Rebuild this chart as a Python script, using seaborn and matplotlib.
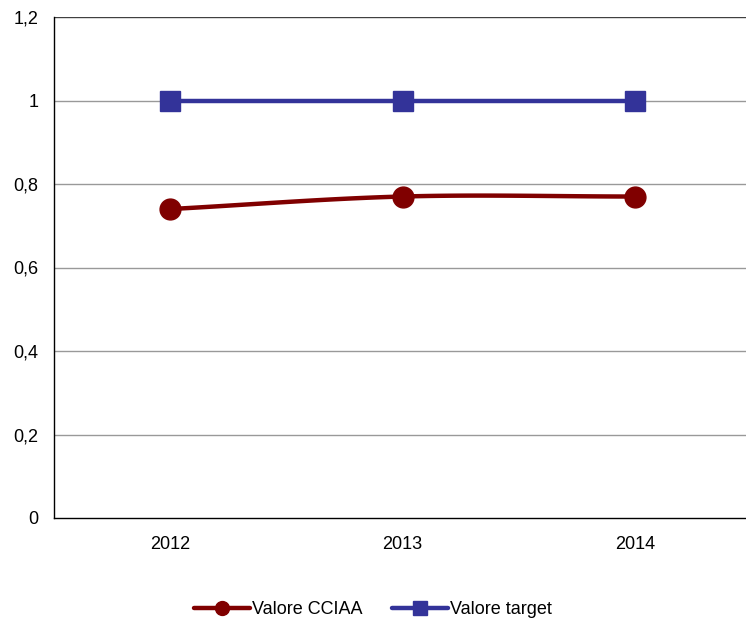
import numpy as np
import pandas as pd
import seaborn as sns
import matplotlib.pyplot as plt
from matplotlib.lines import Line2D

# dati
anni = ['2012', '2013', '2014']
valore_cciaa = [0.74, 0.77, 0.77]
valore_target = [1.0, 1.0, 1.0]
yticks = [0, 0.2, 0.4, 0.6, 0.8, 1.0, 1.2]
ytick_labels = ['0', '0,2', '0,4', '0,6', '0,8', '1', '1,2']

ROSSO = '#800000'
BLU = '#333399'


def smooth(y, n=40):
    # spline Catmull-Rom come le linee smussate di Excel
    y = np.asarray(y, dtype=float)
    p = np.concatenate([[2 * y[0] - y[1]], y, [2 * y[-1] - y[-2]]])
    xs, ys = [], []
    for i in range(len(y) - 1):
        p0, p1, p2, p3 = p[i], p[i + 1], p[i + 2], p[i + 3]
        t = np.linspace(0, 1, n)
        seg = 0.5 * ((2 * p1) + (-p0 + p2) * t + (2 * p0 - 5 * p1 + 4 * p2 - p3) * t ** 2
                     + (-p0 + 3 * p1 - 3 * p2 + p3) * t ** 3)
        xs.append(i + t)
        ys.append(seg)
    return np.concatenate(xs), np.concatenate(ys)


sns.set_theme(style='white')
plt.rcParams['font.family'] = ['Liberation Sans', 'DejaVu Sans']
plt.rcParams['text.color'] = 'black'
plt.rcParams['xtick.labelcolor'] = 'black'
plt.rcParams['ytick.labelcolor'] = 'black'

fig = plt.figure(figsize=(7.46, 6.23), dpi=100)
ax = fig.add_axes([54 / 746, 105 / 623, 692 / 746, 501 / 623])

pos = np.arange(len(anni))
for valori, col, mk, ms in [(valore_cciaa, ROSSO, 'o', 15), (valore_target, BLU, 's', 14.5)]:
    xs, ys = smooth(valori)
    curva = pd.DataFrame({'x': xs, 'y': ys})
    sns.lineplot(data=curva, x='x', y='y', ax=ax, color=col, linewidth=3.2, zorder=3)
    ax.plot(pos, valori, linestyle='none', marker=mk, markersize=ms, color=col, zorder=4)

ax.set_xlim(-0.5, 2.478)
ax.set_ylim(0, 1.2)
ax.set_yticks(yticks)
ax.set_yticklabels(ytick_labels, fontsize=13)
ax.set_xticks(pos)
ax.set_xticklabels(anni, fontsize=13)
ax.set_xticks([0.5, 1.5], minor=True)
ax.tick_params(axis='x', which='major', length=0, pad=13)
ax.tick_params(axis='x', which='minor', length=5, color='#808080', width=1, direction='out')
ax.tick_params(axis='y', length=5, color='#808080', width=1, direction='out', pad=6)
ax.set_xlabel('')
ax.set_ylabel('')

for v in yticks[1:]:
    ax.axhline(v, color='#404040' if v == 1.2 else '#999999', linewidth=1, zorder=1)

for s in ['top', 'right']:
    ax.spines[s].set_visible(False)
for s in ['left', 'bottom']:
    ax.spines[s].set_color('black')
    ax.spines[s].set_linewidth(1)

handles = [
    Line2D([], [], color=ROSSO, linewidth=3.2, marker='o', markersize=10),
    Line2D([], [], color=BLU, linewidth=3.2, marker='s', markersize=10),
]
fig.legend(handles, ['Valore CCIAA', 'Valore target'], loc='center',
           bbox_to_anchor=(0.5, 13 / 623), ncol=2, frameon=False, fontsize=13,
           handlelength=3.1, handletextpad=0.15, columnspacing=1.6)

fig.savefig('out.png', dpi=100)
